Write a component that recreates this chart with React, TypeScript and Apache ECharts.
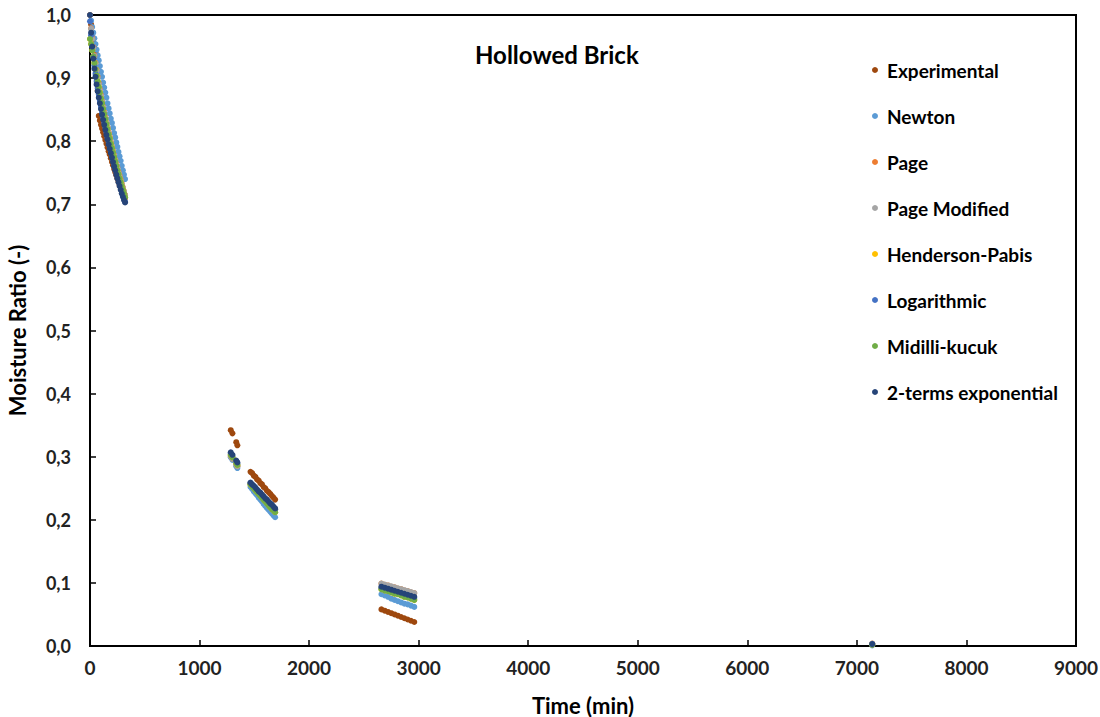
import React, { useEffect, useRef } from "react";
import * as echarts from "echarts";

const times = [
  0, 10, 20, 30, 40, 50, 60, 70, 80, 90, 100, 110, 120, 130, 140, 150, 160, 170, 180, 190, 200, 210, 220, 230, 240, 250, 260, 270, 280, 290, 300, 310, 320,
  1285, 1300, 1335, 1345,
  1465, 1480, 1495, 1510, 1525, 1540, 1555, 1570, 1585, 1600, 1615, 1630, 1645, 1660, 1675, 1690,
  2660, 2690, 2720, 2750, 2780, 2810, 2840, 2870, 2900, 2930, 2960,
  7140,
];

const experimental = [
  1.0, 0.985, 0.97, 0.957, 0.948, 0.94, 0.93, 0.88, 0.84, 0.833, 0.826, 0.82, 0.814, 0.808, 0.802, 0.796, 0.79, 0.784, 0.779, 0.773, 0.767, 0.762, 0.756, 0.751, 0.746, 0.741, 0.736, 0.731, 0.727, 0.722, 0.718, 0.714, 0.71,
  0.342, 0.337, 0.323, 0.318,
  0.276, 0.274, 0.27, 0.268, 0.264, 0.262, 0.258, 0.256, 0.252, 0.25, 0.246, 0.244, 0.241, 0.238, 0.235, 0.232,
  0.058, 0.056, 0.054, 0.052, 0.05, 0.048, 0.046, 0.044, 0.042, 0.04, 0.038,
  0.003,
];

const newton = [
  1.0, 0.991, 0.981, 0.972, 0.963, 0.954, 0.945, 0.936, 0.928, 0.919, 0.91, 0.902, 0.893, 0.885, 0.877, 0.869, 0.86, 0.852, 0.844, 0.836, 0.829, 0.821, 0.813, 0.806, 0.798, 0.791, 0.783, 0.776, 0.769, 0.761, 0.754, 0.747, 0.74,
  0.299, 0.295, 0.285, 0.282,
  0.252, 0.249, 0.245, 0.242, 0.239, 0.235, 0.232, 0.229, 0.225, 0.222, 0.219, 0.216, 0.213, 0.21, 0.207, 0.204,
  0.082, 0.08, 0.078, 0.075, 0.073, 0.071, 0.069, 0.067, 0.066, 0.064, 0.062,
  0.001,
];

const page = [
  1.0, 0.979, 0.963, 0.949, 0.936, 0.924, 0.913, 0.902, 0.892, 0.882, 0.873, 0.864, 0.855, 0.846, 0.838, 0.83, 0.822, 0.814, 0.807, 0.799, 0.792, 0.785, 0.778, 0.771, 0.764, 0.758, 0.751, 0.745, 0.739, 0.733, 0.727, 0.721, 0.715,
  0.301, 0.297, 0.288, 0.285,
  0.257, 0.254, 0.251, 0.249, 0.246, 0.243, 0.24, 0.238, 0.235, 0.232, 0.23, 0.227, 0.224, 0.222, 0.219, 0.216,
  0.099, 0.097, 0.096, 0.094, 0.093, 0.091, 0.09, 0.088, 0.087, 0.085, 0.084,
  0.004,
];

const pageModified = [
  1.0, 0.978, 0.962, 0.948, 0.935, 0.923, 0.912, 0.901, 0.891, 0.881, 0.872, 0.863, 0.854, 0.845, 0.837, 0.829, 0.821, 0.813, 0.806, 0.798, 0.791, 0.784, 0.777, 0.77, 0.763, 0.757, 0.75, 0.744, 0.738, 0.732, 0.726, 0.72, 0.714,
  0.301, 0.297, 0.288, 0.285,
  0.257, 0.254, 0.251, 0.249, 0.246, 0.243, 0.24, 0.238, 0.235, 0.232, 0.23, 0.227, 0.224, 0.222, 0.219, 0.216,
  0.099, 0.0975, 0.096, 0.0945, 0.093, 0.0915, 0.09, 0.0885, 0.087, 0.0855, 0.084,
  0.004,
];

const hendersonPabis = [
  0.962, 0.954, 0.944, 0.934, 0.924, 0.914, 0.904, 0.895, 0.886, 0.877, 0.868, 0.86, 0.851, 0.843, 0.835, 0.827, 0.819, 0.811, 0.804, 0.796, 0.789, 0.782, 0.775, 0.768, 0.761, 0.754, 0.748, 0.741, 0.735, 0.729, 0.723, 0.717, 0.711,
  0.303, 0.299, 0.29, 0.287,
  0.256, 0.253, 0.25, 0.247, 0.244, 0.241, 0.238, 0.235, 0.232, 0.229, 0.226, 0.223, 0.22, 0.217, 0.215, 0.212,
  0.09, 0.088, 0.087, 0.085, 0.083, 0.082, 0.08, 0.078, 0.077, 0.075, 0.073,
  0.002,
];

const logarithmic = [
  0.99, 0.968, 0.95, 0.934, 0.92, 0.907, 0.895, 0.884, 0.874, 0.864, 0.855, 0.846, 0.838, 0.83, 0.822, 0.814, 0.806, 0.799, 0.792, 0.785, 0.778, 0.771, 0.764, 0.758, 0.751, 0.745, 0.739, 0.733, 0.727, 0.721, 0.715, 0.71, 0.704,
  0.305, 0.301, 0.292, 0.289,
  0.258, 0.255, 0.252, 0.249, 0.246, 0.244, 0.241, 0.238, 0.235, 0.232, 0.229, 0.227, 0.224, 0.221, 0.218, 0.216,
  0.092, 0.09, 0.089, 0.087, 0.085, 0.084, 0.082, 0.08, 0.079, 0.077, 0.076,
  0.003,
];

const midilliKucuk = [
  0.962, 0.954, 0.944, 0.934, 0.924, 0.914, 0.904, 0.895, 0.886, 0.877, 0.868, 0.86, 0.851, 0.843, 0.835, 0.827, 0.819, 0.811, 0.804, 0.796, 0.789, 0.782, 0.775, 0.768, 0.761, 0.754, 0.748, 0.741, 0.735, 0.729, 0.723, 0.717, 0.711,
  0.303, 0.299, 0.29, 0.287,
  0.256, 0.253, 0.25, 0.247, 0.244, 0.241, 0.238, 0.235, 0.232, 0.229, 0.226, 0.223, 0.22, 0.217, 0.215, 0.212,
  0.09, 0.088, 0.087, 0.085, 0.083, 0.082, 0.08, 0.078, 0.077, 0.075, 0.073,
  0.002,
];

const twoTerms = [
  1.0, 0.972, 0.95, 0.931, 0.915, 0.902, 0.89, 0.879, 0.869, 0.86, 0.851, 0.842, 0.834, 0.826, 0.818, 0.81, 0.803, 0.795, 0.788, 0.781, 0.774, 0.767, 0.76, 0.754, 0.747, 0.741, 0.735, 0.729, 0.723, 0.717, 0.712, 0.707, 0.703,
  0.307, 0.303, 0.294, 0.291,
  0.259, 0.256, 0.254, 0.251, 0.248, 0.245, 0.243, 0.24, 0.237, 0.234, 0.232, 0.229, 0.226, 0.224, 0.221, 0.218,
  0.094, 0.0924, 0.0908, 0.0892, 0.0876, 0.086, 0.0844, 0.0828, 0.0812, 0.0796, 0.078,
  0.003,
];

const seriesNames = [
  "Experimental",
  "Newton",
  "Page",
  "Page Modified",
  "Henderson-Pabis",
  "Logarithmic",
  "Midilli-kucuk",
  "2-terms exponential",
];
const seriesValues = [experimental, newton, page, pageModified, hendersonPabis, logarithmic, midilliKucuk, twoTerms];
const seriesColors = ["#9E480E", "#5B9BD5", "#ED7D31", "#A5A5A5", "#FFC000", "#4472C4", "#70AD47", "#264478"];

const chartTitle = "Hollowed Brick";
const xName = "Time (min)";
const yName = "Moisture Ratio (-)";

const FONT = "Lato, 'Open Sans', sans-serif";

export default function App() {
  const ref = useRef<HTMLDivElement>(null);
  useEffect(() => {
    if (!ref.current) return;
    const chart = echarts.init(ref.current, null, { renderer: "svg" });
    chart.setOption({
      animation: false,
      backgroundColor: "#fff",
      textStyle: { fontFamily: FONT },
      title: {
        text: chartTitle,
        left: 470,
        top: 37,
        textStyle: { fontFamily: FONT, fontSize: 24, fontWeight: "bold", color: "#000" },
      },
      legend: {
        orient: "vertical",
        left: 867,
        top: 55,
        itemGap: 26,
        itemWidth: 6,
        itemHeight: 6,
        icon: "circle",
        data: seriesNames,
        textStyle: {
          fontFamily: FONT,
          fontSize: 19,
          fontWeight: "bold",
          color: "#000",
          lineHeight: 20,
          padding: [0, 0, 0, 4],
        },
      },
      grid: {
        left: 90,
        right: 24,
        top: 15,
        bottom: 71,
        outerBoundsMode: "none",
        show: true,
        borderColor: "#000",
        borderWidth: 2,
        backgroundColor: "transparent",
      },
      xAxis: {
        type: "value",
        min: 0,
        max: 9000,
        interval: 1000,
        name: xName,
        nameLocation: "middle",
        nameGap: 48,
        nameTextStyle: { fontFamily: FONT, fontSize: 22, fontWeight: "bold", color: "#000" },
        axisLine: { show: true, lineStyle: { color: "#000", width: 2 } },
        axisTick: { show: true, inside: true, length: 6, lineStyle: { color: "#000", width: 1.5 } },
        axisLabel: {
          margin: 12,
          fontFamily: FONT,
          fontSize: 19,
          fontWeight: "bold",
          color: "#222",
          formatter: (v: number) => String(v),
        },
        splitLine: { show: false },
      },
      yAxis: {
        type: "value",
        min: 0,
        max: 1,
        interval: 0.1,
        name: yName,
        nameLocation: "middle",
        nameGap: 62,
        nameTextStyle: { fontFamily: FONT, fontSize: 22, fontWeight: "bold", color: "#000" },
        axisLine: { show: true, lineStyle: { color: "#000", width: 2 } },
        axisTick: { show: true, inside: true, length: 6, lineStyle: { color: "#000", width: 1.5 } },
        axisLabel: {
          margin: 19,
          fontFamily: FONT,
          fontSize: 18,
          fontWeight: "bold",
          color: "#222",
          formatter: (v: number) => v.toFixed(1).replace(".", ","),
        },
        splitLine: { show: false },
      },
      series: seriesNames.map((name, i) => ({
        name,
        type: "scatter",
        symbol: "circle",
        symbolSize: 6,
        itemStyle: { color: seriesColors[i], opacity: 1 },
        data: times.map((t, j) => [t, seriesValues[i][j]]),
      })),
    });
    return () => chart.dispose();
  }, []);
  return (
    <div
      ref={ref}
      style={{ position: "absolute", left: 0, top: 0, width: 1100, height: 717, background: "#fff" }}
    />
  );
}
